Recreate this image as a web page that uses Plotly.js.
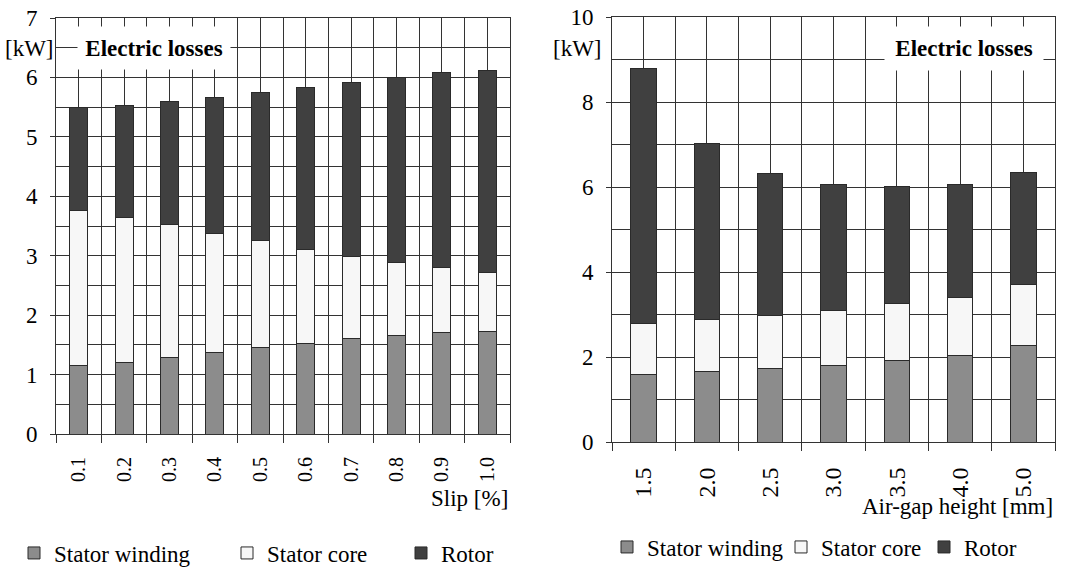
<!DOCTYPE html>
<html>
<head>
<meta charset="utf-8">
<script src="https://cdn.plot.ly/plotly-3.0.1.min.js"></script>
<style>html,body{margin:0;padding:0;background:#fff;}#chart{width:1090px;height:567px;}</style>
</head>
<body>
<div id="chart"></div>
<script>
// ---- Data: losses vs slip ----
const slipCats = ['0.1','0.2','0.3','0.4','0.5','0.6','0.7','0.8','0.9','1.0'];
const slipStatorWinding = [1.15, 1.21, 1.29, 1.37, 1.46, 1.53, 1.60, 1.65, 1.71, 1.73];
const slipStatorCore    = [2.61, 2.44, 2.24, 2.01, 1.79, 1.58, 1.39, 1.23, 1.09, 0.98];
const slipRotor         = [1.74, 1.88, 2.06, 2.29, 2.49, 2.72, 2.93, 3.12, 3.28, 3.40];

// ---- Data: losses vs air-gap height ----
const gapCats = ['1.5','2.0','2.5','3.0','3.5','4.0','5.0'];
const gapStatorWinding = [1.58, 1.65, 1.72, 1.81, 1.92, 2.03, 2.28];
const gapStatorCore    = [1.22, 1.23, 1.26, 1.29, 1.34, 1.36, 1.43];
const gapRotor         = [6.00, 4.14, 3.33, 2.96, 2.76, 2.68, 2.62];

const seriesNames = ['Stator winding', 'Stator core', 'Rotor'];
const seriesColors = ['#8c8c8c', '#f7f7f7', '#404040'];

const FONT = 'Liberation Serif';
const FS = 23;
const GRID = '#333333';
const W = 1090, H = 567;

const idx = a => a.map((_, i) => i);
const bounds = a => a.map((_, i) => i - 0.5).concat([a.length - 0.5]);

function mkTraces(cats, series, xa, ya, legends) {
  return series.map((vals, k) => ({
    type: 'bar',
    name: seriesNames[k],
    x: idx(cats),
    y: vals,
    width: 0.4,
    xaxis: xa, yaxis: ya,
    legend: legends[k],
    showlegend: true,
    marker: {color: seriesColors[k], line: {color: '#2a2a2a', width: 1}},
    hoverinfo: 'y'
  }));
}

const traces = [].concat(
  mkTraces(slipCats, [slipStatorWinding, slipStatorCore, slipRotor], 'x', 'y', ['legend', 'legend3', 'legend4']),
  mkTraces(gapCats, [gapStatorWinding, gapStatorCore, gapRotor], 'x2', 'y2', ['legend2', 'legend5', 'legend6'])
);

function xAxis(cats, domain, anchor, size, standoff) {
  return {
    domain: domain, anchor: anchor,
    range: [-0.5, cats.length - 0.5],
    tickmode: 'array', tickvals: idx(cats), ticktext: cats,
    ticks: '', tickangle: -90,
    ticklabelstandoff: standoff,
    tickfont: {family: FONT, size: size, color: '#000'},
    showgrid: true, gridcolor: GRID, gridwidth: 1,
    minor: {tickmode: 'array', tickvals: bounds(cats), ticks: 'outside', ticklen: 8,
            tickcolor: GRID, tickwidth: 1, showgrid: true, gridcolor: GRID, gridwidth: 1},
    showline: true, mirror: true, linecolor: GRID, linewidth: 1,
    zeroline: false, fixedrange: true, automargin: false
  };
}
function yAxis(domain, anchor, max, major, minor) {
  return {
    domain: domain, anchor: anchor,
    range: [0, max], tick0: 0, dtick: major,
    ticks: 'outside', ticklen: 5, tickcolor: GRID,
    ticklabelstandoff: 8,
    tickfont: {family: FONT, size: FS, color: '#000'},
    showgrid: true, gridcolor: GRID, gridwidth: 1,
    minor: {tick0: 0, dtick: minor, showgrid: true, gridcolor: GRID, gridwidth: 1, ticks: ''},
    showline: true, mirror: true, linecolor: GRID, linewidth: 1,
    zeroline: false, fixedrange: true, automargin: false
  };
}

const px = v => v / W;
const py = v => 1 - v / H;
const legendBase = {orientation: 'h', xanchor: 'left', yanchor: 'middle', traceorder: 'normal',
                    bgcolor: 'rgba(0,0,0,0)', font: {family: FONT, size: FS, color: '#000'}};
const txt = {family: FONT, size: FS, color: '#000'};
const leg = (x, y) => Object.assign({}, legendBase, {x: px(x), y: py(y)});

const layout = {
  width: W, height: H,
  margin: {l: 0, r: 0, t: 0, b: 0, autoexpand: false},
  paper_bgcolor: '#fff', plot_bgcolor: '#fff',
  barmode: 'stack',
  showlegend: true,
  font: txt,
  xaxis: xAxis(slipCats, [px(56), px(510)], 'y', 20, 14),
  yaxis: yAxis([1 - 434 / H, 1 - 18 / H], 'x', 7, 1, 0.5),
  xaxis2: xAxis(gapCats, [px(612), px(1055)], 'y2', 24, 15),
  yaxis2: yAxis([1 - 442 / H, 1 - 17 / H], 'x2', 10, 2, 1),
  legend:  leg(14, 553),
  legend3: leg(227, 553),
  legend4: leg(401, 553),
  legend2: leg(607, 547),
  legend5: leg(781, 547),
  legend6: leg(924, 547),
  annotations: [
    {text: '[kW]', xref: 'paper', yref: 'paper', x: px(56), y: py(48), xanchor: 'right', yanchor: 'middle',
     showarrow: false, font: txt},
    {text: '<b>Electric losses</b>', xref: 'paper', yref: 'paper', x: px(154), y: py(48),
     xanchor: 'center', yanchor: 'middle', width: 150, height: 40, bgcolor: '#fff',
     showarrow: false, font: txt},
    {text: 'Slip [%]', xref: 'paper', yref: 'paper', x: px(510), y: py(498), xanchor: 'right', yanchor: 'middle',
     showarrow: false, font: txt},
    {text: '[kW]', xref: 'paper', yref: 'paper', x: px(604), y: py(48), xanchor: 'right', yanchor: 'middle',
     showarrow: false, font: txt},
    {text: '<b>Electric losses</b>', xref: 'paper', yref: 'paper', x: px(964), y: py(48),
     xanchor: 'center', yanchor: 'middle', width: 156, height: 41, bgcolor: '#fff',
     showarrow: false, font: txt},
    {text: 'Air-gap height [mm]', xref: 'paper', yref: 'paper', x: px(1055), y: py(506), xanchor: 'right', yanchor: 'middle',
     showarrow: false, font: txt}
  ]
};

Plotly.newPlot('chart', traces, layout, {displayModeBar: false, staticPlot: true});
</script>
</body>
</html>
